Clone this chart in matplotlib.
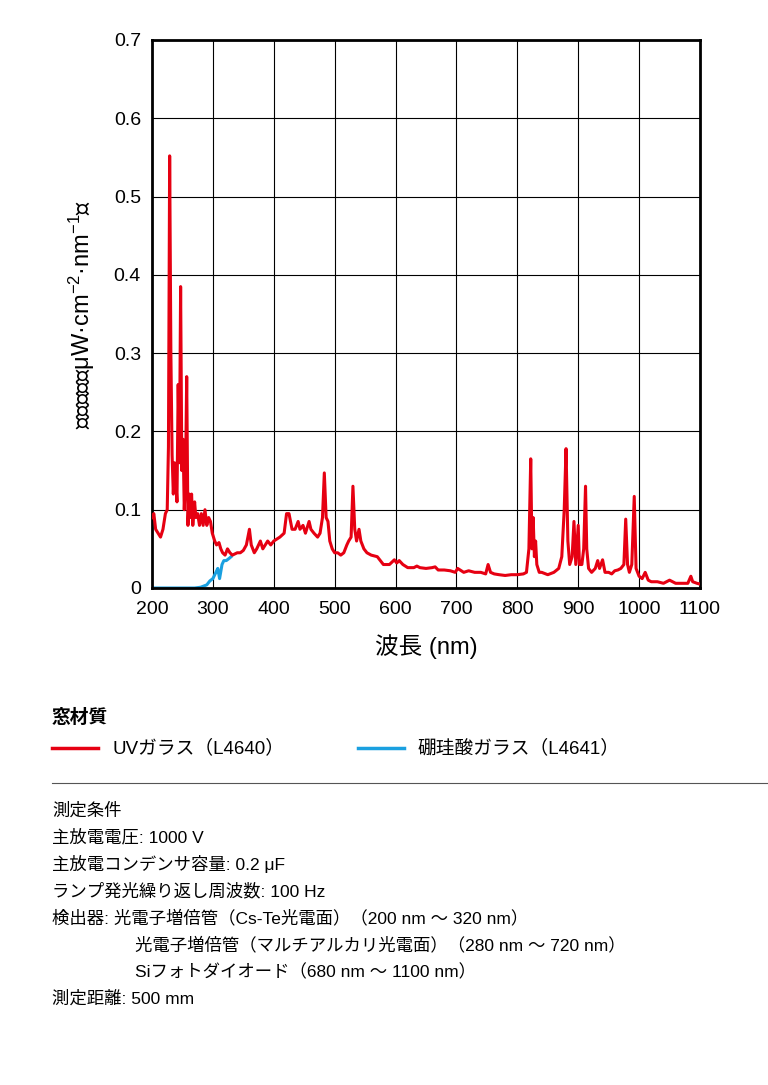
import matplotlib
matplotlib.use("Agg")
import matplotlib.pyplot as plt
import numpy as np

plt.rcParams["font.family"] = ["Liberation Sans", "Noto Sans CJK JP"]
plt.rcParams["mathtext.fontset"] = "custom"
plt.rcParams["mathtext.rm"] = "Liberation Sans"
plt.rcParams["mathtext.default"] = "rm"

uv_wl = [200,203,206,210,214,218,222,225,227,229,231,233,235,237,239,241,243,245,247,249,251,253,255,257,259,261,263,265,267,270,272,275,278,281,284,287,290,293,296,299,303,306,310,313,316,320,324,328,332,340,345,350,355,360,363,368,372,378,382,386,390,395,400,410,417,421,425,430,435,440,443,448,452,458,461,466,472,476,480,483,486,489,492,496,500,505,510,515,520,523,527,530,533,536,540,543,548,553,560,570,575,580,590,598,602,606,612,620,630,635,640,650,660,665,670,680,690,698,702,708,712,720,730,740,748,752,756,762,770,780,790,800,810,815,819,822,824,826,828,830,832,836,840,850,860,868,873,877,880,883,886,890,893,896,900,902,906,909,912,914,917,922,928,932,935,940,944,950,955,960,965,970,975,978,981,984,988,992,995,1000,1005,1010,1015,1020,1030,1040,1050,1060,1070,1080,1085,1088,1095,1100]
uv_val = [0.09,0.095,0.075,0.07,0.065,0.075,0.095,0.10,0.18,0.552,0.30,0.17,0.12,0.16,0.14,0.11,0.26,0.16,0.385,0.15,0.19,0.10,0.14,0.27,0.08,0.12,0.09,0.12,0.08,0.11,0.09,0.095,0.08,0.095,0.08,0.10,0.08,0.09,0.085,0.07,0.06,0.055,0.058,0.05,0.045,0.042,0.05,0.045,0.042,0.045,0.045,0.048,0.055,0.075,0.055,0.045,0.05,0.06,0.05,0.055,0.06,0.055,0.06,0.065,0.07,0.095,0.095,0.075,0.075,0.085,0.075,0.08,0.07,0.085,0.075,0.07,0.065,0.07,0.09,0.147,0.09,0.085,0.06,0.05,0.045,0.045,0.042,0.045,0.055,0.06,0.065,0.13,0.075,0.06,0.075,0.06,0.05,0.045,0.042,0.04,0.035,0.03,0.03,0.036,0.032,0.035,0.03,0.026,0.026,0.028,0.026,0.025,0.026,0.027,0.023,0.023,0.022,0.02,0.025,0.022,0.02,0.022,0.02,0.02,0.018,0.03,0.02,0.018,0.017,0.016,0.017,0.017,0.018,0.02,0.05,0.165,0.05,0.09,0.04,0.06,0.03,0.02,0.02,0.017,0.02,0.025,0.04,0.1,0.178,0.06,0.03,0.04,0.085,0.03,0.08,0.03,0.03,0.05,0.13,0.05,0.025,0.02,0.025,0.035,0.025,0.036,0.02,0.02,0.018,0.022,0.023,0.025,0.03,0.088,0.03,0.02,0.03,0.117,0.025,0.015,0.012,0.02,0.01,0.008,0.008,0.006,0.01,0.006,0.006,0.006,0.015,0.008,0.006,0.005]

bs_wl = [200,240,270,280,290,295,300,305,308,311,315,318,322,327,330]
bs_val = [0.0,0.0,0.0,0.001,0.004,0.009,0.012,0.02,0.025,0.012,0.03,0.035,0.035,0.038,0.04]

x_ticks = [200,300,400,500,600,700,800,900,1000,1100]
y_ticks = [0,0.1,0.2,0.3,0.4,0.5,0.6,0.7]
y_labels = ["0","0.1","0.2","0.3","0.4","0.5","0.6","0.7"]

RED = "#e60012"
BLUE = "#1aa0e0"

fig = plt.figure(figsize=(7.68,10.85), dpi=100)
ax = fig.add_axes([152/768, 1-588/1085, 548/768, 548/1085])
ax.plot(uv_wl, uv_val, color=RED, lw=2.2, zorder=3)
ax.plot(bs_wl, bs_val, color=BLUE, lw=2.2, zorder=2)
ax.set_xlim(200,1100); ax.set_ylim(0,0.7)
ax.set_xticks(x_ticks); ax.set_yticks(y_ticks); ax.set_yticklabels(y_labels)
ax.grid(True, color="black", lw=0.8)
ax.tick_params(axis="y", length=0, labelsize=14, pad=8)
ax.tick_params(axis="x", length=0, labelsize=14, pad=9)
for s in ax.spines.values():
    s.set_linewidth(2)
ax.set_xlabel("波長 (nm)", fontsize=17, labelpad=12)
ax.set_ylabel("放射照度（μW·cm$^{-2}$·nm$^{-1}$）", fontsize=17, labelpad=12)

def fy(p): return 1-p/1085
fig.text(52/768, fy(718), "窓材質", fontsize=13.5, fontweight="bold", va="center")
fig.add_artist(plt.Line2D([52/768, 98/768],[fy(748)]*2, color=RED, lw=2.5))
fig.text(112/768, fy(748), "UVガラス（L4640）", fontsize=13.5, va="center")
fig.add_artist(plt.Line2D([358/768, 404/768],[fy(748)]*2, color=BLUE, lw=2.5))
fig.text(418/768, fy(748), "硼珪酸ガラス（L4641）", fontsize=13.5, va="center")
fig.add_artist(plt.Line2D([52/768, 1.0],[fy(783)]*2, color="#555555", lw=0.8))
lines = [(52,"測定条件"),(52,"主放電電圧: 1000 V"),(52,"主放電コンデンサ容量: 0.2 μF"),
         (52,"ランプ発光繰り返し周波数: 100 Hz"),(52,"検出器: 光電子増倍管（Cs-Te光電面）（200 nm ～ 320 nm）"),
         (135,"光電子増倍管（マルチアルカリ光電面）（280 nm ～ 720 nm）"),(135,"Siフォトダイオード（680 nm ～ 1100 nm）"),
         (52,"測定距離: 500 mm")]
for i,(x,t) in enumerate(lines):
    fig.text(x/768, fy(810+i*27), t, fontsize=12.5, va="center")
fig.savefig("out.png", dpi=100)
